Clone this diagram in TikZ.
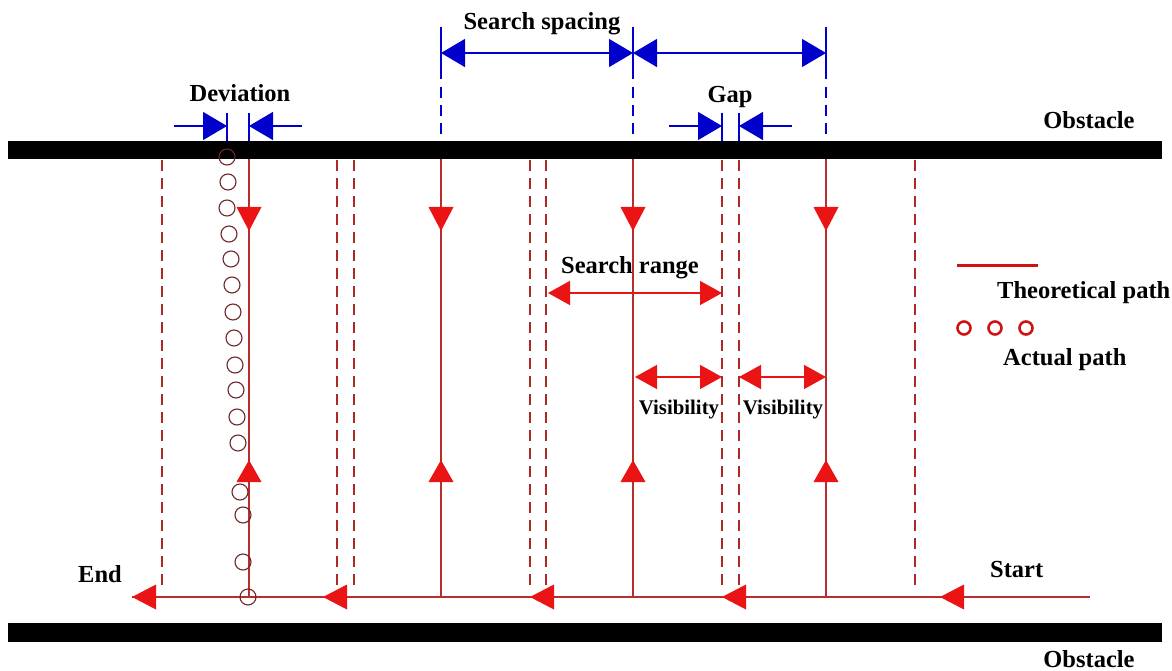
\documentclass[tikz,border=0pt]{standalone}
\usepackage{fontspec}
\setmainfont{Liberation Serif}
\usetikzlibrary{arrows.meta}
\definecolor{pathred}{RGB}{185,45,45}
\definecolor{dashred}{RGB}{175,40,40}
\definecolor{trired}{RGB}{235,20,20}
\definecolor{dimblue}{RGB}{0,0,205}
\definecolor{circbrown}{RGB}{110,40,40}
\definecolor{legred}{RGB}{205,20,20}
\begin{document}
\begin{tikzpicture}[x=1pt,y=-1pt,
  lbl/.style={font=\fontsize{24.5}{29}\selectfont\bfseries, inner sep=0pt},
  smalllbl/.style={font=\fontsize{20.8}{25}\selectfont\bfseries, inner sep=0pt},
  bar/.style={fill=black},
  theo/.style={draw=pathred, line width=1.5pt},
  guide/.style={draw=dashred, line width=1.3pt, dash pattern=on 11pt off 7pt},
  bguide/.style={draw=dimblue, line width=1.2pt, dash pattern=on 11pt off 7pt},
  btick/.style={draw=dimblue, line width=1.3pt},
  bdim/.style={draw=dimblue, line width=1.3pt},
  btip/.style={-{Triangle[length=24pt,width=28pt]}},
  bboth/.style={{Triangle[length=24pt,width=28pt]}-{Triangle[length=24pt,width=28pt]}},
  rdim/.style={draw=trired, line width=1.4pt, {Triangle[length=22pt,width=24pt]}-{Triangle[length=22pt,width=24pt]}},
  actual/.style={draw=circbrown, line width=1.1pt},
  legcirc/.style={draw=legred, line width=2.6pt},
  tridown/.pic={\fill[trired] (-12.5,-12)--(12.5,-12)--(0,12)--cycle;},
  triup/.pic={\fill[trired] (-12.5,11)--(12.5,11)--(0,-11)--cycle;},
  trileft/.pic={\fill[trired] (12,-12.5)--(12,12.5)--(-12,0)--cycle;}
]
\useasboundingbox (0,0) rectangle (1172,671);

% obstacles
\fill[bar] (8,141) rectangle (1162,159);
\fill[bar] (8,623) rectangle (1162,642);
\node[lbl, anchor=base] (obsTop) at (1089,129) {Obstacle};
\node[lbl, anchor=base] (obsBot) at (1089,667) {Obstacle};

% labels
\node[lbl, anchor=base] (devL) at (240,102) {Deviation};
\node[lbl, anchor=base] (spL) at (542,30) {Search spacing};
\node[lbl, anchor=base] (gapL) at (730,103) {Gap};
\node[lbl, anchor=base] (srL) at (630,273) {Search range};
\node[smalllbl, anchor=base] (vis1) at (679,414) {Visibility};
\node[smalllbl, anchor=base] (vis2) at (783,414) {Visibility};
\node[lbl, anchor=base west] (endL) at (78,582) {End};
\node[lbl, anchor=base west] (startL) at (990,577) {Start};
\node[lbl, anchor=base west] (theoL) at (997,298) {Theoretical path};
\node[lbl, anchor=base west] (actL) at (1003,365) {Actual path};

% dashed guide lines (red)
\foreach \x [count=\i] in {162,337,354,530,546,722,739,915}{
  \coordinate (gt\i) at (\x,160);
  \coordinate (gb\i) at (\x,590);
  \draw[guide] (gt\i) -- (gb\i);
}

% theoretical path verticals
\foreach \x [count=\i] in {249,441,633,826}{
  \coordinate (vt\i) at (\x,159);
  \coordinate (vb\i) at (\x,597);
  \draw[theo] (vt\i) -- (vb\i);
  \pic at (\x,219) {tridown};
  \pic at (\x,471) {triup};
}
% bottom horizontal
\coordinate (hStart) at (1090,597);
\coordinate (hEnd) at (132,597);
\draw[theo] (hStart) -- (hEnd);
\foreach \x in {132,323,530,722,940}{
  \pic at (\x+12,597) {trileft};
}

% blue search spacing
\foreach \x [count=\i] in {441,633,826}{
  \coordinate (st\i) at (\x,27);
  \coordinate (sb\i) at (\x,79);
  \coordinate (dt\i) at (\x,87);
  \coordinate (db\i) at (\x,141);
  \coordinate (sm\i) at (\x,53);
  \draw[btick] (st\i) -- (sb\i);
  \draw[bguide] (dt\i) -- (db\i);
}
\draw[bdim, bboth] (sm1) -- (sm2);
\draw[bdim, bboth] (sm2) -- (sm3);

% deviation
\coordinate (devA) at (227,113); \coordinate (devA2) at (227,141);
\coordinate (devB) at (249,113); \coordinate (devB2) at (249,141);
\draw[btick] (devA) -- (devA2);
\draw[btick] (devB) -- (devB2);
\coordinate (devLo) at (174,126); \coordinate (devLi) at (227,126);
\coordinate (devRo) at (302,126); \coordinate (devRi) at (249,126);
\draw[bdim, btip] (devLo) -- (devLi);
\draw[bdim, btip] (devRo) -- (devRi);

% gap
\coordinate (gapA) at (722,113); \coordinate (gapA2) at (722,141);
\coordinate (gapB) at (739,113); \coordinate (gapB2) at (739,141);
\draw[btick] (gapA) -- (gapA2);
\draw[btick] (gapB) -- (gapB2);
\coordinate (gapLo) at (669,126); \coordinate (gapLi) at (722,126);
\coordinate (gapRo) at (792,126); \coordinate (gapRi) at (739,126);
\draw[bdim, btip] (gapLo) -- (gapLi);
\draw[bdim, btip] (gapRo) -- (gapRi);

% search range and visibility
\coordinate (srA) at (548,293); \coordinate (srB) at (722,293);
\draw[rdim] (srA) -- (srB);
\coordinate (v1A) at (635,377); \coordinate (v1B) at (722,377);
\coordinate (v2A) at (739,377); \coordinate (v2B) at (826,377);
\draw[rdim] (v1A) -- (v1B);
\draw[rdim] (v2A) -- (v2B);

% actual path circles
\foreach \x/\y in {227/157,228/182,227/208,229/234,231/259,232/285,233/312,234/338,235/365,236/390,237/417,238/443,240/492,243/515,243/562,248/597}{
  \draw[actual] (\x,\y) circle[radius=8pt];
}

% legend
\coordinate (legA) at (957,265); \coordinate (legB) at (1038,265);
\draw[draw=legred, line width=3pt] (legA) -- (legB);
\foreach \x in {964,995,1026}{
  \draw[legcirc] (\x,328) circle[radius=6.5pt];
}
\end{tikzpicture}
\end{document}
